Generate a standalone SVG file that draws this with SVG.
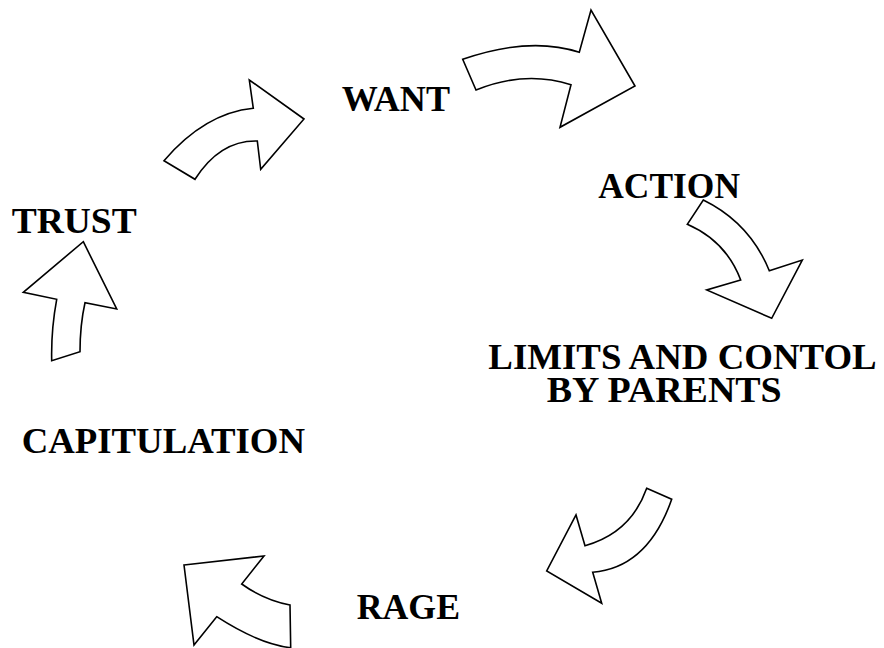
<svg xmlns="http://www.w3.org/2000/svg" width="884" height="648" viewBox="0 0 884 648">
<style>
.arrow{fill:#fff;stroke:#000;stroke-width:1.6;stroke-linejoin:miter}
.lbl{font-family:"Liberation Serif","Times New Roman",serif;font-weight:bold;font-size:35px;fill:#000}
</style>
<rect width="884" height="648" fill="#fff"/>
<g id="connectors">
<path id="arrow-trust-want" class="arrow" d="M164,160.7 Q205,113 253.3,108.3 L249.3,80 L304,119 L260.7,169.3 L257.3,141 Q220,140 195,179.3 Z"/>
<path id="arrow-want-action" class="arrow" d="M462.7,59.3 Q530,36 579.3,52.3 L591,10 L635,86 L560,127.3 L571,84.7 Q525,70 476,90 Z"/>
<path id="arrow-action-limits" class="arrow" d="M703.3,200 Q749.7,222.7 769.3,270.7 L802.3,260 L771.7,318.3 L706.7,290 L740.7,280 Q726,241 687.3,224.3 Z"/>
<path id="arrow-limits-rage" class="arrow" d="M646.7,488.3 L671.7,499.3 Q647.8,567.6 592.7,572.3 L601.7,603.3 L546.7,571 L576,515 L585,545.7 Q630.8,533 646.7,488.3 Z"/>
<path id="arrow-rage-capitulation" class="arrow" d="M184,565 L264,556 L241.7,584 Q264,600 290,605 L290.7,647.7 Q259.7,644.4 216.7,616.7 L194,645 Z"/>
<path id="arrow-capitulation-trust" class="arrow" d="M83.3,241.7 L116.7,309 L85,302.7 Q80,325 80,351.7 L51.7,360.7 Q51,330 56.7,299.3 L23.3,292.3 Z"/>
</g>
<g id="want"><text class="lbl" x="341.7" y="110.7" textLength="108.3" lengthAdjust="spacingAndGlyphs">WANT</text></g>
<g id="action"><text class="lbl" x="598.3" y="197.5" textLength="141.7" lengthAdjust="spacingAndGlyphs">ACTION</text></g>
<g id="limits"><text class="lbl" x="488.3" y="369" textLength="388.4" lengthAdjust="spacingAndGlyphs">LIMITS AND CONTOL</text><text class="lbl" x="546.7" y="401.7" textLength="235" lengthAdjust="spacingAndGlyphs">BY PARENTS</text></g>
<g id="rage"><text class="lbl" x="356.7" y="619.3" textLength="103.3" lengthAdjust="spacingAndGlyphs">RAGE</text></g>
<g id="capitulation"><text class="lbl" x="21.7" y="453.3" textLength="283.3" lengthAdjust="spacingAndGlyphs">CAPITULATION</text></g>
<g id="trust"><text class="lbl" x="11.7" y="233.3" textLength="125" lengthAdjust="spacingAndGlyphs">TRUST</text></g>
</svg>
